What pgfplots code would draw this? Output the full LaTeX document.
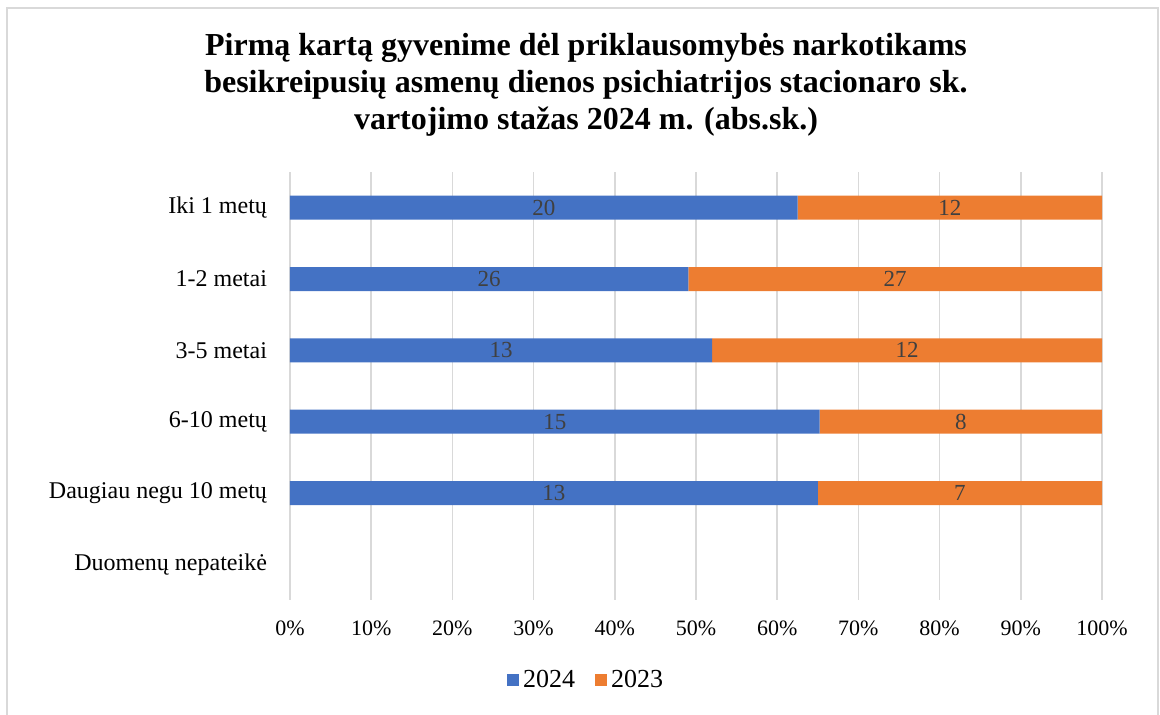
\documentclass[border=0pt]{standalone}
\usepackage{pgfplots}
\pgfplotsset{compat=1.18}
\usepackage{pgfplotstable}
\usepackage{fontspec}
\setmainfont{Liberation Serif}
\definecolor{c24}{HTML}{4472C4}
\definecolor{c23}{HTML}{ED7D31}
\definecolor{gridgray}{HTML}{D9D9D9}
\definecolor{lblgray}{HTML}{404040}

% counts per group, idx 0 = top row
\pgfplotstableread{
idx y2024 y2023
0 20 12
1 26 27
2 13 12
3 15 8
4 13 7
}\stazas

\pgfplotsset{
  sq legend/.style={legend image code/.code={\fill (0pt,-3pt) rectangle (6pt,3pt);}},
  cnt label/.style={point meta=explicit,
    nodes near coords={\pgfmathprintnumber[assume math mode=true]{\pgfplotspointmeta}},
    every node near coord/.append style={anchor=center, text=lblgray, font=\fontsize{11.5}{13}\selectfont}},
}

\begin{document}
\begin{tikzpicture}[x=1pt,y=1pt]
\path[use as bounding box] (-145,-57.5) rectangle (435,300);
\draw[gridgray, line width=0.75pt] (-141.5,-70) rectangle (434,296);
\begin{axis}[
  at={(0,0)}, anchor=south west,
  scale only axis, width=406pt, height=214pt,
  xbar stacked, bar width=12pt,
  xmin=0, xmax=100, ymin=-0.5, ymax=5.5, y dir=reverse,
  xtick={0,10,...,100},
  xticklabels={0\%,10\%,20\%,30\%,40\%,50\%,60\%,70\%,80\%,90\%,100\%},
  ytick={0,...,5},
  yticklabels={Iki 1 metų,1-2 metai,3-5 metai,6-10 metų,Daugiau negu 10 metų,Duomenų nepateikė},
  major tick length=0pt,
  axis line style={draw=none},
  xmajorgrids, grid style={gridgray, line width=0.75pt},
  x tick label style={font=\fontsize{11}{13}\selectfont, yshift=-7pt},
  y tick label style={font=\fontsize{12}{14}\selectfont, xshift=-8pt},
  legend style={at={(axis description cs:0.366,-0.187)}, anchor=center, draw=none,
    legend columns=-1, font=\rmfamily\fontsize{13}{15}\selectfont,
    /tikz/every even column/.append style={column sep=8pt}},
  nodes near coords align=center,
]
\addplot[fill=c24, draw=none, sq legend, cnt label]
  table[y=idx, x expr={\thisrow{y2024}/(\thisrow{y2024}+\thisrow{y2023})*100}, meta=y2024] {\stazas};
\addlegendentry{2024}
\addplot[fill=c23, draw=none, sq legend, cnt label]
  table[y=idx, x expr={\thisrow{y2023}/(\thisrow{y2024}+\thisrow{y2023})*100}, meta=y2023] {\stazas};
\addlegendentry{2023}
\end{axis}
\node[align=center, font=\fontsize{16}{18.5}\selectfont\bfseries] at (148,257.5)
  {Pirmą kartą gyvenime dėl priklausomybės narkotikams\\
   besikreipusių asmenų dienos psichiatrijos stacionaro sk.\\
   vartojimo stažas 2024 m. (abs.sk.)};
\end{tikzpicture}
\end{document}
